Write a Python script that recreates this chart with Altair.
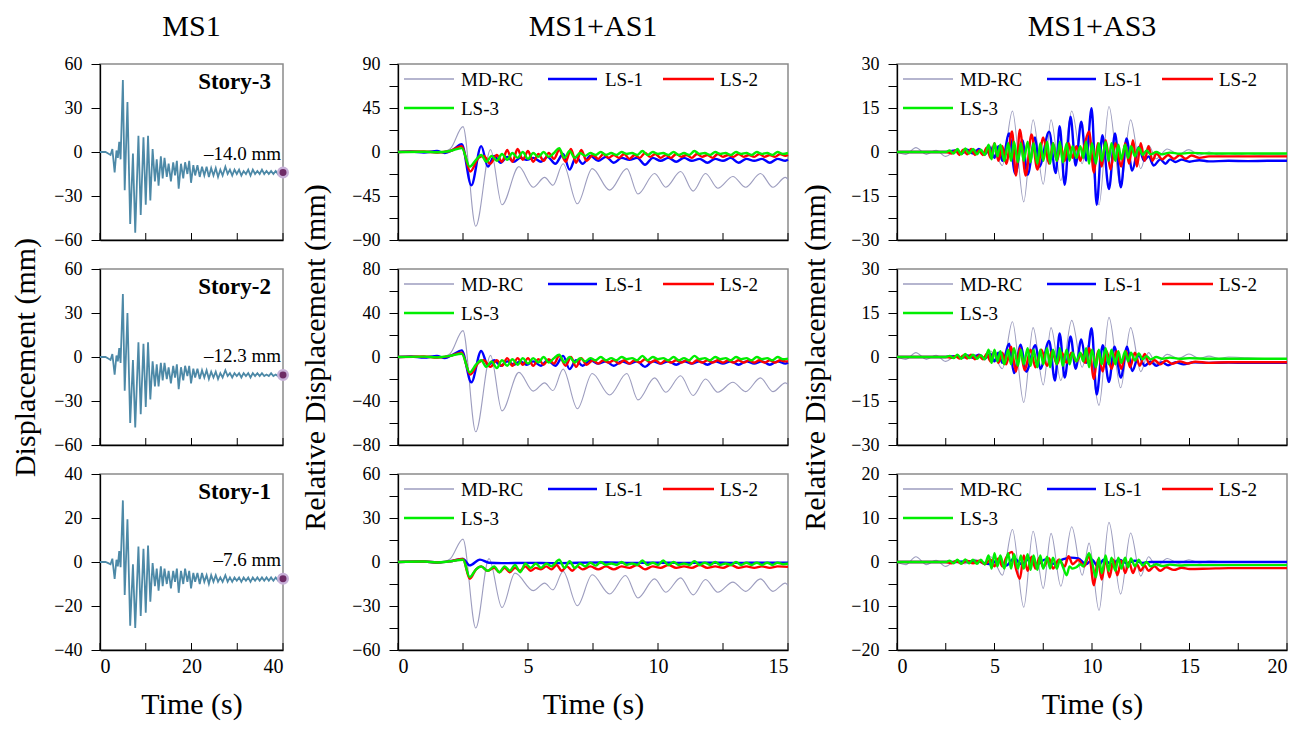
import altair as alt
import pandas as pd

FONT = "Liberation Serif"
SERIES = ["MD-RC", "LS-1", "LS-2", "LS-3"]
COLORS = ["#9d9dbf", "#0000ff", "#ff0000", "#00ee00"]
WIDTHS = [1.1, 2.4, 2.4, 2.4]

# ---------------- MS1 column (time s, displacement mm) ----------------
MS1_S3 = [(0,0),(1.2,0),(1.8,-1),(2.3,-2),(2.7,2),(3.2,-14),(3.6,1),(3.9,-4),(4.2,7),(4.5,-5),(5.0,49),(5.4,-26),(6.0,34),(6.6,-49),(7.2,-1),(7.7,-55),(8.4,11),(8.9,-43),(9.5,10),(10.0,-36),(10.5,11),(11.0,-33),(11.5,2),(12.0,-20),(12.4,-5),(12.8,-23),(13.3,-3),(13.7,-18),(14.1,-4),(14.6,-17),(15.0,-8),(15.5,-20),(16.0,-7),(16.4,-16),(16.8,-6),(17.2,-25),(17.7,-8),(18.2,-18),(18.6,-7),(19.1,-15),(19.5,-6),(19.9,-21),(20.4,-9),(20.8,-16),(21.3,-9),(21.8,-17),(22.3,-10),(22.8,-16),(23.3,-10),(23.8,-17),(24.3,-11),(24.8,-16),(25.3,-11),(25.8,-17),(26.3,-12),(26.8,-16),(27.4,-10),(27.9,-15),(28.4,-12),(28.9,-16),(29.4,-12),(29.9,-15),(30.4,-12),(30.9,-16),(31.4,-13),(31.9,-15),(32.4,-12),(32.9,-16),(33.4,-12),(33.9,-15),(34.4,-13),(34.9,-15),(35.4,-12),(35.9,-15),(36.4,-13),(36.9,-15),(37.4,-13),(37.9,-15),(38.4,-13),(38.9,-15),(39.4,-13),(40,-14.0)]
MS1_S2 = [(0,0),(1.2,0),(1.8,-1),(2.3,-2),(2.7,2),(3.2,-12),(3.6,1),(3.9,-3),(4.2,6),(4.5,-4),(5.0,43),(5.4,-23),(6.0,30),(6.6,-45),(7.2,-2),(7.7,-48),(8.4,10),(8.9,-39),(9.5,9),(10.0,-34),(10.5,10),(11.0,-29),(11.5,-3),(12.0,-20),(12.4,-5),(12.8,-20),(13.3,-4),(13.7,-16),(14.1,-4),(14.6,-15),(15.0,-7),(15.5,-18),(16.0,-6),(16.4,-14),(16.8,-5),(17.2,-22),(17.7,-7),(18.2,-16),(18.6,-6),(19.1,-13),(19.5,-6),(19.9,-18),(20.4,-8),(20.8,-14),(21.3,-8),(21.8,-15),(22.3,-9),(22.8,-14),(23.3,-9),(23.8,-15),(24.3,-10),(24.8,-14),(25.3,-10),(25.8,-15),(26.3,-11),(26.8,-14),(27.4,-9),(27.9,-13),(28.4,-11),(28.9,-14),(29.4,-11),(29.9,-13),(30.4,-11),(30.9,-14),(31.4,-11),(31.9,-13),(32.4,-11),(32.9,-14),(33.4,-11),(33.9,-13),(34.4,-11),(34.9,-13),(35.4,-11),(35.9,-13),(36.4,-12),(36.9,-13),(37.4,-11),(37.9,-13),(38.4,-12),(38.9,-13),(39.4,-12),(40,-12.3)]
MS1_S1 = [(0,0),(1.2,0),(1.8,-0.5),(2.3,-1),(2.7,1.5),(3.2,-7.7),(3.6,1),(3.9,-2),(4.2,5),(4.5,-2.4),(5.0,28),(5.4,-15),(6.0,19.4),(6.6,-29),(7.2,-1),(7.7,-30),(8.4,7),(8.9,-24.5),(9.5,6),(10.0,-23),(10.5,7.5),(11.0,-18),(11.5,-0.5),(12.0,-11),(12.4,-3),(12.8,-13),(13.3,-2),(13.7,-11),(14.1,-3),(14.6,-10),(15.0,-4),(15.5,-12),(16.0,-4),(16.4,-9),(16.8,-3),(17.2,-14),(17.7,-4),(18.2,-10),(18.6,-3),(19.1,-9),(19.5,-4),(19.9,-12),(20.4,-5),(20.8,-9),(21.3,-5),(21.8,-10),(22.3,-5),(22.8,-9),(23.3,-6),(23.8,-10),(24.3,-6),(24.8,-9),(25.3,-6),(25.8,-9),(26.3,-7),(26.8,-9),(27.4,-6),(27.9,-9),(28.4,-7),(28.9,-9),(29.4,-7),(29.9,-8.5),(30.4,-7),(30.9,-9),(31.4,-7),(31.9,-8.5),(32.4,-7),(32.9,-9),(33.4,-7),(33.9,-8.5),(34.4,-7),(34.9,-8.5),(35.4,-7),(35.9,-8.5),(36.4,-7),(36.9,-8.5),(37.4,-7),(37.9,-8.5),(38.4,-7),(38.9,-8.3),(39.4,-7.2),(40,-7.6)]
MS1_LABELS = ["Story-3", "Story-2", "Story-1"]
MS1_FINAL_TEXT = ["–14.0 mm", "–12.3 mm", "–7.6 mm"]

# ---------------- MS1+AS1 column ----------------
A1_R1_MD = [(0,0),(1.0,0.5),(1.5,-1),(2.0,3),(2.5,26),(2.99,-76),(3.56,2.4),(4.0,-54),(4.65,-15),(5.2,-36),(5.64,-26),(5.96,-34),(6.35,-12),(6.9,-53),(7.47,-17),(8.14,-39),(8.8,-17),(9.23,-43),(9.87,-22),(10.3,-36),(10.87,-20),(11.35,-40),(11.83,-22),(12.3,-37),(12.88,-25),(13.37,-36),(13.94,-22),(14.42,-36),(14.9,-26),(15,-28)]
A1_R1_L1 = [(0,0),(0.5,0.5),(1.0,-0.5),(1.5,1),(1.8,-1),(2.1,2),(2.45,8),(2.82,-34),(3.2,6),(3.46,-15),(3.7,-4),(3.95,-11),(4.2,-5),(4.45,-10),(4.7,-6),(4.95,-8),(5.2,-6),(5.5,-10),(5.75,-5),(6.05,-12),(6.35,-2),(6.6,-18),(6.85,-5),(7.1,-12),(7.4,-4),(7.7,-9),(8.0,-5),(8.3,-11),(8.6,-6),(8.9,-8),(9.2,-6),(9.5,-13),(9.8,-6),(10.1,-9),(10.4,-6),(10.7,-10),(11.0,-6),(11.3,-9),(11.6,-7),(11.9,-11),(12.2,-7),(12.5,-9),(12.8,-6),(13.1,-11),(13.4,-7),(13.7,-9),(14.0,-7),(14.3,-11),(14.6,-7),(14.9,-9),(15,-8)]
A1_R1_L2 = [(0,0),(1.0,0.5),(1.5,-0.5),(2.0,1),(2.45,6),(2.78,-20),(3.1,-6),(3.3,-4),(3.55,-12),(3.8,-3),(4.0,-10),(4.2,2),(4.4,-10),(4.6,3),(4.8,-8),(5.0,1),(5.2,-10),(5.4,-2),(5.6,-9),(5.8,-1),(6.0,-7),(6.2,2),(6.45,-10),(6.65,3),(6.85,-11),(7.05,2),(7.25,-9),(7.5,-3),(7.7,-7),(7.9,-2),(8.1,-6),(8.3,-3),(8.5,-6),(8.7,-2),(8.9,-7),(9.1,-3),(9.3,-6),(9.5,-1),(9.7,-5),(9.9,-2),(10.1,-6),(10.3,-3),(10.5,-6),(10.7,-2),(10.9,-5),(11.1,-3),(11.3,-6),(11.5,-2),(11.7,-5),(11.9,-3),(12.1,-6),(12.3,-2),(12.5,-5),(12.7,-3),(12.9,-5),(13.1,-2),(13.3,-5),(13.5,-3),(13.7,-5),(13.9,-2),(14.1,-5),(14.3,-3),(14.5,-5),(14.7,-2),(14.9,-4),(15,-3)]
A1_R1_L3 = [(0,0),(1.0,0.3),(1.5,-0.3),(2.0,1),(2.45,4),(2.76,-15),(3.0,-8),(3.2,-3),(3.4,-10),(3.6,-4),(3.8,-9),(4.0,-2),(4.2,-8),(4.4,-1),(4.6,-6),(4.8,0),(5.0,-7),(5.2,-1),(5.4,-5),(5.6,0),(5.8,-5),(6.0,-1),(6.2,4),(6.4,-6),(6.6,1),(6.8,-6),(7.0,-1),(7.2,-4),(7.4,-1),(7.6,-3),(7.8,0),(8.0,-3),(8.2,-1),(8.4,-3),(8.6,0),(8.8,-2),(9.0,-1),(9.2,-3),(9.4,1),(9.6,-3),(9.8,0),(10.0,-2),(10.2,-1),(10.4,-3),(10.6,0),(10.8,-3),(11.0,-1),(11.2,-3),(11.4,1),(11.6,-2),(11.8,-1),(12.0,-3),(12.2,0),(12.4,-2),(12.6,-1),(12.8,-3),(13.0,0),(13.2,-2),(13.4,-1),(13.6,-3),(13.8,0),(14.0,-2),(14.2,-1),(14.4,-3),(14.6,0),(14.8,-2),(15,-1)]

A1_R2_MD = [(0,0),(1.0,0.5),(1.5,-1),(2.0,3),(2.5,24),(2.99,-68),(3.56,1.5),(4.0,-49),(4.65,-14),(5.2,-31),(5.64,-23.5),(5.96,-30.5),(6.35,-11),(6.9,-47),(7.47,-15),(8.14,-34.5),(8.8,-15),(9.23,-39),(9.87,-19),(10.3,-32),(10.87,-17),(11.35,-35),(11.83,-20),(12.3,-32),(12.88,-23),(13.37,-31.5),(13.94,-19),(14.42,-31.5),(14.9,-23.5),(15,-25)]
A1_R2_L1 = [(0,0),(0.5,0.5),(1.0,-0.5),(1.5,1),(1.8,-1),(2.1,2),(2.45,6),(2.82,-23),(3.2,5.5),(3.46,-7.6),(3.7,-3),(3.95,-8),(4.2,-4),(4.45,-7),(4.7,-4),(4.95,-7),(5.2,-4),(5.5,-8),(5.75,-3),(6.05,-8),(6.35,1),(6.6,-11),(6.85,-3),(7.1,-8),(7.4,-3),(7.7,-6),(8.0,-4),(8.3,-8),(8.6,-4),(8.9,-6),(9.2,-4),(9.5,-9),(9.8,-4),(10.1,-6),(10.4,-4),(10.7,-7),(11.0,-4),(11.3,-6),(11.6,-4),(11.9,-7),(12.2,-4),(12.5,-6),(12.8,-4),(13.1,-7),(13.4,-4),(13.7,-6),(14.0,-4),(14.3,-7),(14.6,-4),(14.9,-6),(15,-5)]
A1_R2_L2 = [(0,0),(1.0,0.5),(1.5,-0.5),(2.0,1),(2.45,4),(2.78,-16),(3.1,-5),(3.3,-3),(3.55,-9),(3.8,-3),(4.0,-8),(4.2,-1),(4.4,-8),(4.6,-1),(4.8,-7),(5.0,-1),(5.2,-8),(5.4,-2),(5.6,-7),(5.8,-2),(6.0,-6),(6.2,1),(6.45,-8),(6.65,0),(6.85,-9),(7.05,-1),(7.25,-7),(7.5,-3),(7.7,-6),(7.9,-3),(8.1,-5),(8.3,-3),(8.5,-6),(8.7,-3),(8.9,-6),(9.1,-3),(9.3,-5),(9.5,-2),(9.7,-5),(9.9,-3),(10.1,-6),(10.3,-3),(10.5,-5),(10.7,-3),(10.9,-5),(11.1,-3),(11.3,-6),(11.5,-3),(11.7,-5),(11.9,-3),(12.1,-5),(12.3,-3),(12.5,-5),(12.7,-3),(12.9,-5),(13.1,-3),(13.3,-5),(13.5,-3),(13.7,-5),(13.9,-3),(14.1,-5),(14.3,-3),(14.5,-5),(14.7,-3),(14.9,-4),(15,-4)]
A1_R2_L3 = [(0,0),(1.0,0.3),(1.5,-0.3),(2.0,1),(2.45,3),(2.76,-14),(3.0,-7),(3.2,-3),(3.4,-9),(3.6,-4),(3.8,-10),(4.0,-3),(4.2,-8),(4.4,-2),(4.6,-7),(4.8,-1),(5.0,-6),(5.2,-1),(5.4,-5),(5.6,0),(5.8,-5),(6.0,-1),(6.2,2),(6.4,-5),(6.6,0),(6.8,-5),(7.0,-1),(7.2,-4),(7.4,-1),(7.6,-3),(7.8,0),(8.0,-3),(8.2,-1),(8.4,-3),(8.6,0),(8.8,-2),(9.0,-1),(9.2,-3),(9.4,1),(9.6,-3),(9.8,0),(10.0,-2),(10.2,-1),(10.4,-3),(10.6,0),(10.8,-3),(11.0,-1),(11.2,-3),(11.4,1),(11.6,-2),(11.8,-1),(12.0,-3),(12.2,0),(12.4,-2),(12.6,-1),(12.8,-3),(13.0,0),(13.2,-2),(13.4,-1),(13.6,-3),(13.8,0),(14.0,-2),(14.2,-1),(14.4,-3),(14.6,0),(14.8,-2),(15,-1.5)]

A1_R3_MD = [(0,0),(1.0,0.5),(1.5,-1),(2.0,2),(2.5,15.6),(2.99,-45),(3.5,2.3),(4.0,-31),(4.5,-7.6),(5.2,-19.5),(5.64,-14.4),(5.96,-19),(6.35,-6.4),(6.9,-29.8),(7.47,-8.7),(8.14,-21.8),(8.75,-9.2),(9.23,-24.5),(9.87,-11.5),(10.3,-20.6),(10.87,-10.8),(11.35,-22.4),(11.83,-11.9),(12.3,-20.6),(12.88,-13.7),(13.37,-20),(13.94,-11.5),(14.42,-20),(14.9,-14.4),(15,-16)]
A1_R3_L1 = [(0,0),(1.0,0.3),(1.5,-0.3),(2.0,0.5),(2.5,2),(2.76,-2.3),(3.15,1.6),(3.5,-0.5),(4.0,-0.8),(5.0,-0.6),(6.0,-0.8),(7.0,-0.5),(8.0,-0.3),(9.0,-0.6),(10.0,-0.5),(11.0,-0.6),(12.0,-0.5),(13.0,-0.6),(14.0,-0.5),(15,-0.5)]
A1_R3_L2 = [(0,0),(1.0,0.3),(1.5,-0.3),(2.0,0.5),(2.5,2),(2.76,-11.5),(3.0,-5),(3.2,-3),(3.45,-6),(3.7,-4),(3.9,-7),(4.1,-4),(4.3,-7),(4.5,-4),(4.7,-6),(4.9,-3),(5.1,-6),(5.3,-4),(5.5,-5),(5.7,-3),(5.9,-5),(6.1,-2),(6.3,-6),(6.5,-3),(6.7,-6),(6.9,-3),(7.1,-5),(7.4,-3),(7.7,-5),(8.0,-3),(8.3,-5),(8.6,-3),(8.9,-4),(9.2,-2),(9.5,-5),(9.8,-3),(10.1,-4),(10.4,-2),(10.7,-4),(11.0,-3),(11.3,-4),(11.6,-2),(11.9,-4),(12.2,-3),(12.5,-4),(12.8,-2),(13.1,-4),(13.4,-3),(13.7,-4),(14.0,-3),(14.3,-4),(14.6,-3),(15,-3.3)]
A1_R3_L3 = [(0,0),(1.0,0.3),(1.5,-0.3),(2.0,0.5),(2.5,1.5),(2.76,-10.3),(3.0,-5),(3.2,-3),(3.45,-6),(3.7,-3),(3.9,-7),(4.1,-3),(4.3,-6),(4.5,-2),(4.7,-7),(4.9,-1),(5.1,-4),(5.3,-1),(5.5,-4),(5.7,-1),(5.9,-3),(6.2,1.5),(6.4,-4),(6.6,0.5),(6.8,-4),(7.0,-1),(7.2,-3),(7.4,-0.5),(7.6,-2.5),(7.8,0),(8.0,-2),(8.2,-1),(8.4,-2),(8.6,0),(8.8,-2),(9.0,-1),(9.2,-2),(9.4,1),(9.6,-2),(9.8,-0.5),(10.0,-2),(10.2,1),(10.4,-2),(10.6,0),(10.8,-2),(11.0,-1),(11.2,-2),(11.4,0.5),(11.6,-2),(11.8,-0.5),(12.0,-2),(12.2,0),(12.4,-2),(12.6,-1),(12.8,-2),(13.0,0),(13.2,-2),(13.4,-0.5),(13.6,-2),(13.8,-0.5),(14.0,-2),(14.2,-0.5),(14.4,-2),(14.6,-0.5),(14.8,-1.5),(15,-1)]

# ---------------- MS1+AS3 column ----------------
A3_R1_MD = [(0,0),(0.46,-0.8),(0.97,1.5),(1.5,-0.8),(2.0,0.6),(2.5,-1.5),(3.0,0.3),(3.5,-0.5),(4.0,0.8),(4.5,-1),(4.8,2),(5.1,-1),(5.4,-4.6),(5.92,14),(6.5,-17),(6.98,11),(7.5,-11),(7.9,11),(8.4,-9.7),(8.96,14),(9.5,-4),(9.8,5),(10.36,-18),(10.87,15.5),(11.47,-12),(11.98,11),(12.5,-5.7),(12.9,2.3),(13.3,-2.3),(13.86,1),(14.45,-0.8),(14.97,0.8),(15.5,-1),(16.0,0),(16.5,-1),(17.0,-0.5),(17.5,-1),(18.0,-0.5),(18.5,-1),(19.0,-0.8),(20,-1)]
A3_R1_L1 = [(0,0),(2.5,0),(3.0,0.5),(3.3,-0.5),(3.6,0.8),(3.9,-0.5),(4.2,1),(4.5,-0.8),(4.8,1.5),(5.0,-2),(5.2,2),(5.4,-3),(5.75,6.3),(6.06,-7.4),(6.43,4),(6.7,-7.7),(7.08,5),(7.3,-5),(7.8,6.9),(8.14,-7.2),(8.34,8.8),(8.6,-11.2),(8.9,12),(9.16,-4.6),(9.45,10.3),(9.7,-2.9),(9.98,14.9),(10.24,-18),(10.53,5.7),(10.87,-12.6),(11.18,6.3),(11.48,-12),(11.77,4.6),(12.06,-6.3),(12.4,1.7),(12.66,-2.9),(12.9,-1.5),(13.17,-4.6),(13.5,-2.5),(13.77,-4),(14.0,-2.5),(14.28,-3.4),(14.6,-2.6),(15.0,-3.3),(15.5,-2.8),(16.0,-3.2),(17.0,-3),(18.0,-3.1),(19.0,-3),(20,-3)]
A3_R1_L2 = [(0,0),(2.5,0),(2.8,-0.5),(3.0,0.5),(3.2,-1),(3.4,0.8),(3.6,-0.8),(3.8,1),(4.0,-1),(4.2,0.5),(4.4,-1),(4.6,1.5),(4.8,-2),(5.0,3),(5.2,-3),(5.4,2),(5.6,-4),(5.9,7),(6.1,-8),(6.3,7.6),(6.6,-8),(6.9,6),(7.2,-6),(7.5,5),(7.8,-4),(8.0,3),(8.2,-3),(8.4,2),(8.6,-3),(8.8,3),(9.0,-2),(9.2,2),(9.4,-3),(9.6,2),(9.85,7),(10.1,-7),(10.3,3),(10.5,-5),(10.7,4),(10.95,-6),(11.2,3),(11.5,-5),(11.7,3),(11.9,-4),(12.1,4),(12.3,-5),(12.5,3),(12.7,-3),(12.9,2),(13.1,-3),(13.3,-0.5),(13.6,-2.5),(13.9,-1),(14.2,-2.3),(14.5,-1),(14.8,-2.3),(15.1,-1.2),(15.5,-2),(16.0,-1.5),(17.0,-1.5),(18.0,-1.5),(20,-1.5)]
A3_R1_L3 = [(0,0),(2.5,0),(2.7,0.5),(2.9,-0.5),(3.1,1),(3.3,-0.8),(3.5,1.2),(3.7,-0.5),(3.9,1),(4.1,-0.8),(4.3,0.8),(4.5,-1),(4.7,2.5),(4.85,-2.5),(5.0,3),(5.15,-1.5),(5.3,2.5),(5.5,-3),(5.7,3),(5.85,-3),(6.0,3.5),(6.2,-3.5),(6.35,3),(6.5,-3),(6.7,3.5),(6.85,-3.5),(7.0,3),(7.2,-4),(7.35,3),(7.5,-3),(7.7,3.5),(7.85,-4),(8.0,3),(8.2,-3),(8.35,3.5),(8.5,-3.5),(8.7,3),(8.85,-3),(9.0,2),(9.2,-2),(9.4,2),(9.55,-2),(9.7,3.5),(9.85,-4),(10.0,3),(10.2,-4),(10.35,3),(10.5,-3),(10.7,3.5),(10.85,-3),(11.0,3),(11.2,-3),(11.35,2.5),(11.5,-2.5),(11.7,2.5),(11.85,-2),(12.0,2),(12.2,-1.5),(12.4,1.5),(12.6,-1),(12.8,0.5),(13.0,-0.8),(13.3,0),(13.6,-0.8),(14.0,-0.2),(14.5,-0.6),(15,-0.3),(16,-0.5),(17,-0.5),(20,-0.5)]

A3_R2_MD = [(0,0),(0.46,-0.8),(0.97,1.5),(1.5,-0.8),(2.0,0.6),(2.5,-1.5),(3.0,0.3),(3.5,-0.5),(4.0,0.8),(4.5,-1),(4.8,2),(5.1,-1),(5.4,-4),(5.92,12),(6.5,-15.5),(6.98,10),(7.5,-9.5),(7.9,10),(8.4,-8),(8.96,12.5),(9.5,-3.5),(9.8,4),(10.36,-16.5),(10.87,13.5),(11.47,-10.5),(11.98,10),(12.5,-5),(12.9,1.5),(13.3,-2.3),(13.86,0.9),(14.45,-0.5),(14.97,1),(15.5,-0.5),(16.0,0.3),(16.5,-0.5),(17.0,0),(18.0,-0.3),(19.0,-0.5),(20,-0.5)]
A3_R2_L1 = [(0,0),(2.5,0),(3.0,0.3),(3.3,-0.3),(3.6,0.5),(3.9,-0.3),(4.2,0.8),(4.5,-0.5),(4.8,1),(5.0,-1.5),(5.2,1.5),(5.4,-2),(5.75,4.5),(6.0,-5.5),(6.35,4.2),(6.62,-5),(7.1,4),(7.35,-4),(7.8,5.5),(8.1,-8),(8.34,8),(8.6,-7),(8.9,7),(9.16,-4),(9.45,6),(9.7,-2),(9.98,9.8),(10.24,-12.8),(10.55,4),(10.87,-8.5),(11.15,3.5),(11.48,-7),(11.8,3.5),(12.06,-4.8),(12.4,0.5),(12.7,-3),(13.0,-1.5),(13.3,-3),(13.6,-1.8),(13.9,-2.8),(14.3,-1.8),(14.7,-2.5),(15.2,-1.8),(16,-2),(17,-1.9),(18,-2),(20,-2)]
A3_R2_L2 = [(0,0),(2.5,0),(2.8,-0.3),(3.0,0.3),(3.2,-0.5),(3.4,0.5),(3.6,-0.5),(3.8,0.8),(4.0,-0.8),(4.2,0.5),(4.4,-0.8),(4.6,1),(4.8,-1.5),(5.0,2),(5.2,-2),(5.4,1.5),(5.6,-2.5),(5.85,3.5),(6.1,-5),(6.3,3),(6.55,-4.5),(6.85,2.5),(7.1,-3.5),(7.4,2.5),(7.7,-3),(7.95,2),(8.2,-2.5),(8.45,1.5),(8.7,-2),(8.95,1.5),(9.2,-1.5),(9.45,1),(9.65,-2),(9.85,3),(10.1,-7.5),(10.3,2),(10.55,-5),(10.75,2),(11.0,-4),(11.25,2),(11.5,-4),(11.75,2),(11.95,-3.5),(12.2,1.5),(12.45,-3),(12.7,1),(12.95,-2.5),(13.2,-1),(13.5,-2.5),(13.8,-1.2),(14.1,-2.3),(14.5,-1.5),(14.9,-2.2),(15.3,-1.6),(16,-2),(17,-1.8),(18,-1.8),(20,-1.8)]
A3_R2_L3 = [(0,0),(2.5,0),(2.7,0.4),(2.9,-0.4),(3.1,0.8),(3.3,-0.6),(3.5,1),(3.7,-0.4),(3.9,0.8),(4.1,-0.6),(4.3,0.6),(4.5,-0.8),(4.7,2.5),(4.85,-2),(5.0,2.5),(5.15,-1.5),(5.3,2),(5.5,-2.5),(5.7,2.5),(5.85,-2.5),(6.0,3),(6.2,-3),(6.35,2.5),(6.5,-2.5),(6.7,3),(6.85,-3),(7.0,2.5),(7.2,-3.5),(7.35,2.5),(7.5,-2.5),(7.7,3),(7.85,-3.5),(8.0,2.5),(8.2,-2.5),(8.35,3),(8.5,-3),(8.7,2.5),(8.85,-2.5),(9.0,1.5),(9.2,-1.5),(9.4,1.5),(9.55,-1.5),(9.7,3),(9.85,-3.5),(10.0,2.5),(10.2,-3.5),(10.35,2.5),(10.5,-2.5),(10.7,3),(10.85,-2.5),(11.0,2.5),(11.2,-2.5),(11.35,2),(11.5,-2),(11.7,2),(11.85,-1.5),(12.0,1.5),(12.2,-1.2),(12.4,1.2),(12.6,-0.8),(12.8,0.3),(13.0,-0.8),(13.3,0),(13.6,-0.6),(14.0,-0.2),(14.5,-0.6),(15,-0.4),(16,-0.6),(20,-0.6)]

A3_R3_MD = [(0,0),(0.46,-0.6),(0.97,1.2),(1.5,-0.6),(2.0,0.4),(2.5,-1),(3.0,0.3),(3.5,-0.4),(4.0,0.6),(4.5,-0.6),(4.8,1.2),(5.1,-0.8),(5.4,-3),(5.92,7.4),(6.5,-10.3),(6.98,7),(7.5,-6),(7.9,6.5),(8.4,-5.5),(8.96,8),(9.5,-3),(9.85,4.3),(10.36,-11),(10.87,9),(11.47,-7.3),(11.98,6.6),(12.5,-3.2),(12.9,1.2),(13.3,-1),(13.86,0.8),(14.45,-0.3),(14.97,0.5),(15.5,-0.2),(16.0,0.2),(17.0,0),(18,0),(20,0)]
A3_R3_L1 = [(0,0),(3.0,0),(4.0,0.2),(4.8,-0.5),(5.2,0.5),(5.6,-0.8),(6.0,0.8),(6.4,-0.5),(6.8,0.8),(7.2,-0.5),(7.6,0.6),(8.0,-0.4),(8.5,0.6),(8.9,1),(9.3,0.8),(9.7,-0.5),(10.0,0.5),(10.3,-1),(10.6,0.5),(11.0,-0.5),(11.4,0.5),(11.8,-0.3),(12.2,0.3),(12.6,-0.2),(13.0,0),(20,0)]
A3_R3_L2 = [(0,0),(2.5,0),(2.8,-0.3),(3.0,0.2),(3.3,-0.3),(3.6,0.3),(3.9,-0.3),(4.2,0.3),(4.5,-0.5),(4.8,0.5),(5.0,-1),(5.2,0.8),(5.4,-1),(5.6,1),(5.9,2.3),(6.1,-1.5),(6.3,-3.8),(6.5,1.5),(6.7,-2),(6.9,1.2),(7.1,-1.5),(7.3,1),(7.5,-1.2),(7.8,0.8),(8.0,-1.5),(8.3,0.5),(8.6,-1),(8.8,1.3),(9.0,-0.5),(9.3,0.5),(9.6,-1),(9.85,1.5),(10.1,-5.3),(10.3,0.5),(10.5,-4),(10.7,0.5),(10.9,-3.5),(11.1,0.5),(11.3,-3),(11.5,0.3),(11.7,-2.5),(11.9,0),(12.1,-2.5),(12.3,-0.5),(12.5,-2),(12.7,-0.8),(12.9,-2),(13.2,-1),(13.5,-2),(13.8,-1.2),(14.2,-1.8),(14.6,-1.3),(15.0,-1.6),(16,-1.5),(17,-1.4),(20,-1.4)]
A3_R3_L3 = [(0,0),(2.5,0),(2.7,0.3),(2.9,-0.3),(3.1,0.5),(3.3,-0.4),(3.5,0.6),(3.7,-0.3),(3.9,0.5),(4.1,-0.4),(4.3,0.5),(4.5,-0.5),(4.7,1.5),(4.85,-1.5),(5.0,2),(5.15,-1),(5.3,1.5),(5.5,-1.5),(5.7,2),(5.85,-1.5),(6.0,1.8),(6.2,-1.5),(6.35,1.5),(6.5,-1.5),(6.7,1.8),(6.85,-1.8),(7.0,1.5),(7.2,-1.8),(7.35,1.5),(7.5,-1.5),(7.7,1.2),(7.85,-1.5),(8.0,1),(8.2,-1.5),(8.35,0.5),(8.5,-1),(8.7,-3),(8.85,-1),(9.0,-1.5),(9.2,-1.2),(9.4,-0.5),(9.55,-1),(9.7,0.5),(9.85,2),(10.0,0),(10.2,-3.5),(10.35,1),(10.5,-2.5),(10.7,1.5),(10.85,-2),(11.0,1),(11.2,-2),(11.35,1),(11.5,-1.5),(11.7,1),(11.85,-1.2),(12.0,0.8),(12.2,-1),(12.4,0.5),(12.6,-0.8),(12.8,0),(13.0,-1),(13.3,-0.5),(13.6,-0.9),(14.0,-0.6),(14.5,-0.8),(15,-0.7),(16,-0.7),(20,-0.7)]

# axis tick values
MS1_X_TICKS = [0, 10, 20, 30, 40]
MS1_X_LABELS = [0, 20, 40]
AS1_X_TICKS = [0, 2.5, 5, 7.5, 10, 12.5, 15]
AS1_X_LABELS = [0, 5, 10, 15]
AS3_X_TICKS = [0, 2.5, 5, 7.5, 10, 12.5, 15, 17.5, 20]
AS3_X_LABELS = [0, 5, 10, 15, 20]
MS1_Y = [(60, 15, 30), (60, 15, 30), (40, 10, 20)]          # (max, tick step, label step)
AS1_Y = [(90, 22.5, 45), (80, 20, 40), (60, 15, 30)]
AS3_Y = [(30, 7.5, 15), (30, 7.5, 15), (20, 5, 10)]

W1, W2, H = 183, 390, 176
# legend layout inside each panel (pixels from plot's top-left): line x0, line x1, text x, row y
LEGEND_LAYOUT = [(6, 56, 63, 15), (150, 199, 207, 15), (265, 316, 322, 15), (6, 56, 63, 44)]
LEGEND_WIDTHS = [1.6, 2.6, 2.6, 2.6]


def df(pairs):
    return pd.DataFrame(pairs, columns=["t", "v"])


def yticks(ymax, step):
    n = int(round(2 * ymax / step))
    return [ymax - i * step for i in range(n + 1)]


def axes(xmax, xlabels, ycfg, bottom, ytitle, ytitle_pad):
    ymax, ystep, ylab = ycfg
    x = alt.X("t:Q", scale=alt.Scale(domain=[0, xmax], nice=False, zero=False),
              axis=alt.Axis(values=xlabels, ticks=False, tickSize=0, labels=bottom,
                            labelPadding=6, labelFontSize=20,
                            title="Time (s)" if bottom else None, titlePadding=13))
    y = alt.Y("v:Q", scale=alt.Scale(domain=[-ymax, ymax], nice=False, zero=False),
              axis=alt.Axis(values=yticks(ymax, ystep), tickSize=9, labelPadding=9,
                            labelExpr=f"abs(datum.value % {ylab}) < 0.001 ? datum.label : ''",
                            title=ytitle, titlePadding=ytitle_pad))
    return x, y


def tick_layer(ticks):
    return alt.Chart(pd.DataFrame({"t": ticks})).mark_rule(color="black", strokeWidth=1).encode(
        x="t:Q", y=alt.value(H), y2=alt.value(H - 7))


def ms1_panel(i, data, title=None):
    x, y = axes(40, MS1_X_LABELS, MS1_Y[i], i == 2, "Displacement (mm)" if i == 1 else None, 13)
    line = alt.Chart(df(data)).mark_line(color="#4d89a7", strokeWidth=1.8).encode(x=x, y=y)
    end = pd.DataFrame({"t": [data[-1][0]], "v": [data[-1][1]], "lab": [MS1_FINAL_TEXT[i]]})
    dot = alt.Chart(end).mark_point(filled=True, size=90, color="#6e2b66", stroke="#c7b0d8",
                                    strokeWidth=2.5, opacity=1).encode(x="t:Q", y="v:Q")
    lab = alt.Chart(end).mark_text(align="right", baseline="alphabetic", dx=-2, dy=-13,
                                   fontSize=19, font=FONT).encode(x="t:Q", y="v:Q", text="lab:N")
    story = alt.Chart(pd.DataFrame({"s": [MS1_LABELS[i]]})).mark_text(
        align="right", baseline="alphabetic", fontSize=23, fontWeight="bold", font=FONT).encode(
        x=alt.value(W1 - 12), y=alt.value(25), text="s:N")
    ch = alt.layer(line, tick_layer(MS1_X_TICKS), dot, lab, story).properties(width=W1, height=H)
    if title:
        ch = ch.properties(title=alt.TitleParams(title, frame="group", offset=13))
    return ch


def legend_layers():
    out = []
    for name, col, w, (x0, x1, xt, yc) in zip(SERIES, COLORS, LEGEND_WIDTHS, LEGEND_LAYOUT):
        d = pd.DataFrame({"s": [name]})
        out.append(alt.Chart(d).mark_rule(color=col, strokeWidth=w).encode(
            x=alt.value(x0), x2=alt.value(x1), y=alt.value(yc)))
        out.append(alt.Chart(d).mark_text(align="left", baseline="middle", fontSize=19,
                                          font=FONT, color="black").encode(
            x=alt.value(xt), y=alt.value(yc + 1), text="s:N"))
    return out


def as_panel(i, series, xmax, xticks, xlabels, ycfg_list, title=None, tpad=20):
    x, y = axes(xmax, xlabels, ycfg_list[i], i == 2,
                "Relative Displacement (mm)" if i == 1 else None, tpad)
    layers = []
    for name, data, col, w in zip(SERIES, series, COLORS, WIDTHS):
        layers.append(alt.Chart(df(data)).mark_line(color=col, strokeWidth=w,
                                                    interpolate="monotone").encode(x=x, y=y))
    layers.append(tick_layer(xticks))
    layers += legend_layers()
    ch = alt.layer(*layers).properties(width=W2, height=H)
    if title:
        ch = ch.properties(title=alt.TitleParams(title, frame="group", offset=13))
    return ch


col1 = alt.vconcat(ms1_panel(0, MS1_S3, "MS1"), ms1_panel(1, MS1_S2), ms1_panel(2, MS1_S1),
                   spacing=29, bounds="flush").resolve_scale(x="independent", y="independent")
as1 = [[A1_R1_MD, A1_R1_L1, A1_R1_L2, A1_R1_L3],
       [A1_R2_MD, A1_R2_L1, A1_R2_L2, A1_R2_L3],
       [A1_R3_MD, A1_R3_L1, A1_R3_L2, A1_R3_L3]]
as3 = [[A3_R1_MD, A3_R1_L1, A3_R1_L2, A3_R1_L3],
       [A3_R2_MD, A3_R2_L1, A3_R2_L2, A3_R2_L3],
       [A3_R3_MD, A3_R3_L1, A3_R3_L2, A3_R3_L3]]
col2 = alt.vconcat(*[as_panel(i, as1[i], 15, AS1_X_TICKS, AS1_X_LABELS, AS1_Y,
                              "MS1+AS1" if i == 0 else None, 21) for i in range(3)],
                   spacing=29, bounds="flush").resolve_scale(x="independent", y="independent")
col3 = alt.vconcat(*[as_panel(i, as3[i], 20, AS3_X_TICKS, AS3_X_LABELS, AS3_Y,
                              "MS1+AS3" if i == 0 else None, 20) for i in range(3)],
                   spacing=29, bounds="flush").resolve_scale(x="independent", y="independent")

chart = alt.hconcat(col1, col2, col3, spacing=6).resolve_scale(x="independent", y="independent")

chart = chart.configure(
    background="white", padding={"left": 2, "top": 3, "right": 2, "bottom": 2}
).configure_view(
    stroke="#8a8a8a", strokeWidth=1.5
).configure_axis(
    labelFont=FONT, titleFont=FONT, labelFontSize=18, titleFontSize=30, titleFontWeight="normal",
    labelColor="black", titleColor="black", tickColor="black", domainColor="black",
    domainWidth=1.3, tickWidth=1, grid=False
).configure_title(
    font=FONT, fontSize=30, fontWeight="normal", color="black", anchor="middle"
)

chart.save("out.html", embed_options={"renderer": "svg", "actions": False})
